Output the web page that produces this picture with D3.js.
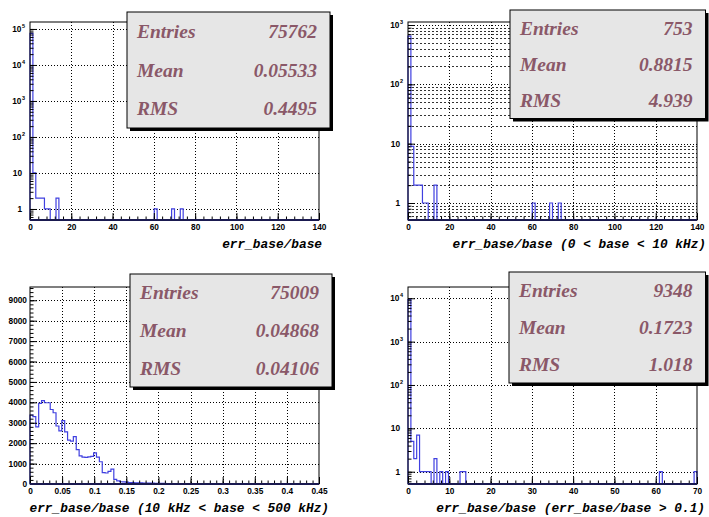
<!DOCTYPE html>
<html><head><meta charset="utf-8">
<script src="https://cdn.jsdelivr.net/npm/d3@7/dist/d3.min.js"></script>
<style>body{margin:0;background:#fff}</style>
</head><body>
<svg id="c" width="709" height="517"></svg>
<script>
// ---------------- DATA ----------------
const p1Counts = [
 75700,10,2,2,2,1,1,0,0,2,
 0,0,0,0,0,0,0,0,0,0,
 0,0,0,0,0,0,0,0,0,0,
 0,0,0,0,0,0,0,0,0,0,
 0,0,0,1,0,0,0,0,0,1,
 0,0,1,0,0,0,0,0,0,0,
 0,0,0,0,0,0,0,0,0,0,
 0,0,0,0,0,0,0,0,0,0,
 0,0,0,0,0,0,0,0,0,0,
 0,0,0,0,0,0,0,0,0,0];
const p2Counts = [
 650,9,2,2,2,1,1,0,0,2,
 0,0,0,0,0,0,0,0,0,0,
 0,0,0,0,0,0,0,0,0,0,
 0,0,0,0,0,0,0,0,0,0,
 0,0,0,1,0,0,0,0,0,1,
 0,0,1,0,0,0,0,0,0,0,
 0,0,0,0,0,0,0,0,0,0,
 0,0,0,0,0,0,0,0,0,0,
 0,0,0,0,0,0,0,0,0,0,
 0,0,0,0,0,0,0,0,0,0];
const p3Counts = [
 3380,3300,2800,3950,4080,3980,3980,3650,3490,2840,
 2600,3100,2550,2150,2100,2320,1680,1380,1320,1300,
 1330,1350,1520,1320,1090,560,540,620,730,230,
 150,110,100,90,70,65,60,62,55,50,
 45,40,38,35,30,32,28,25,22,20,
 18,20,16,15,14,12,13,11,10,10,
 9,8,9,7,8,6,7,6,5,6,
 5,4,5,4,4,3,4,3,3,3,
 3,2,3,2,2,2,1,2,1,2,
 1,1,1,2,1,1,0,1,1,1];
const p4Counts = [
 9300,5,2,7,1,1,1,1,0,2,
 0,1,0,1,0,0,0,0,1,1,
 0,0,0,0,0,0,0,0,0,0,
 0,0,0,0,0,0,0,0,0,0,
 0,0,0,0,0,0,0,0,0,0,
 0,0,0,0,0,0,0,0,0,0,
 0,0,0,0,0,0,0,0,0,0,
 0,0,0,0,0,0,0,0,0,0,
 0,0,0,0,0,0,0,1,0,0,
 0,0,0,0,0,0,0,0,0,1];

const p1XRange = [0,140], p2XRange = [0,140], p3XRange = [0,0.45], p4XRange = [0,70];
const p1YRange = [0.494,156000], p2YRange = [0.517,1124], p3YRange = [0,9650], p4YRange = [0.52,18200];

const p1XTicks = [0,20,40,60,80,100,120,140];
const p2XTicks = [0,20,40,60,80,100,120,140];
const p3XTicks = [0,0.05,0.1,0.15,0.2,0.25,0.3,0.35,0.4,0.45];
const p3XTickLabels = ["0","0.05","0.1","0.15","0.2","0.25","0.3","0.35","0.4","0.45"];
const p4XTicks = [0,10,20,30,40,50,60,70];
const p3YTicks = [0,1000,2000,3000,4000,5000,6000,7000,8000,9000];
const p1YTicks = [1,10,100,1000,10000,100000];
const p2YTicks = [1,10,100,1000];
const p4YTicks = [1,10,100,1000,10000];

const statNames = ["Entries","Mean","RMS"];
const p1Stats = ["75762","0.05533","0.4495"];
const p2Stats = ["753","0.8815","4.939"];
const p3Stats = ["75009","0.04868","0.04106"];
const p4Stats = ["9348","0.1723","1.018"];

const p1Title = "err_base/base";
const p2Title = "err_base/base (0 < base < 10 kHz)";
const p3Title = "err_base/base (10 kHz < base < 500 kHz)";
const p4Title = "err_base/base (err_base/base > 0.1)";

// ---------------- LAYOUT / STYLE ----------------
const svg = d3.select("#c");
const HIST_COLOR = "#4040e0";
const STAT_COLOR = "#8a5868";

function range(a,b,s){const r=[];for(let v=a;v<=b+s*1e-6;v+=s)r.push(+v.toFixed(6));return r;}
function logMinor(dom){const r=[];for(let e=-1;e<=6;e++)for(let m=1;m<=9;m++){const v=m*Math.pow(10,e);if(v>=dom[0]&&v<=dom[1])r.push(v);}return r;}

const panels = [
 {counts:p1Counts,xr:p1XRange,yr:p1YRange,log:true,xt:p1XTicks,xl:null,xm:range(0,140,4),yt:p1YTicks,
  stats:p1Stats,title:p1Title,minorGrid:false,
  x0:30,x1:319,y0:22,y1:220,box:[127,12,330,128],titleX:322,titleY:247.5},
 {counts:p2Counts,xr:p2XRange,yr:p2YRange,log:true,xt:p2XTicks,xl:null,xm:range(0,140,4),yt:p2YTicks,
  stats:p2Stats,title:p2Title,minorGrid:true,
  x0:408,x1:697,y0:22,y1:220,box:[510,10,705.5,118.5],titleX:706,titleY:247.5},
 {counts:p3Counts,xr:p3XRange,yr:p3YRange,log:false,xt:p3XTicks,xl:p3XTickLabels,xm:range(0,0.45,0.01),yt:p3YTicks,
  ym:range(0,9600,200),stats:p3Stats,title:p3Title,minorGrid:false,
  x0:30,x1:319,y0:287,y1:484,box:[130,274,332,387],titleX:329,titleY:511.5},
 {counts:p4Counts,xr:p4XRange,yr:p4YRange,log:true,xt:p4XTicks,xl:null,xm:range(0,70,2),yt:p4YTicks,
  stats:p4Stats,title:p4Title,minorGrid:false,
  x0:408,x1:697,y0:287,y1:484,box:[509,272,705.5,383],titleX:705,titleY:511.5}
];

function drawPanel(p){
  const g = svg.append("g");
  const x = d3.scaleLinear().domain(p.xr).range([p.x0,p.x1]);
  const y = (p.log ? d3.scaleLog() : d3.scaleLinear()).domain(p.yr).range([p.y1,p.y0]);
  const yMinor = p.log ? logMinor(p.yr) : p.ym;
  const px = v=>Math.round(v)+0.5;

  // grid
  const gridG = g.append("g").attr("stroke","#000").attr("stroke-width",1)
     .attr("stroke-dasharray","1,2").attr("fill","none").attr("shape-rendering","crispEdges");
  p.xt.forEach(v=>{ if(x(v)>p.x0+1 && x(v)<p.x1-1)
    gridG.append("line").attr("x1",px(x(v))).attr("x2",px(x(v))).attr("y1",p.y0).attr("y2",p.y1);});
  p.yt.forEach(v=>{ if(y(v)>p.y0+1 && y(v)<p.y1-1)
    gridG.append("line").attr("x1",p.x0).attr("x2",p.x1).attr("y1",px(y(v))).attr("y2",px(y(v)));});
  if(p.minorGrid){
    yMinor.filter(v=>!p.yt.includes(v)).forEach(v=>{ if(y(v)>p.y0+1 && y(v)<p.y1-1)
      gridG.append("line").attr("x1",p.x0).attr("x2",p.x1).attr("y1",px(y(v))).attr("y2",px(y(v)))
        .attr("stroke-dasharray","2,2").attr("stroke","#333");});
  }

  // histogram step outline
  const n = p.counts.length, bw = (p.xr[1]-p.xr[0])/n;
  const base = p.y1;
  let d = `M${x(p.xr[0])},${base}`;
  p.counts.forEach((c,i)=>{
    let yy = c>0 ? Math.max(p.y0, y(c)) : base;
    d += `L${x(p.xr[0]+i*bw)},${yy}L${x(p.xr[0]+(i+1)*bw)},${yy}`;
  });
  d += `L${x(p.xr[1])},${base}`;
  g.append("path").attr("d",d).attr("fill","none").attr("stroke",HIST_COLOR).attr("stroke-width",1.2);

  // axes (inner ticks)
  const font = "'Liberation Sans', Arial, sans-serif";
  const xa = g.append("g").attr("transform",`translate(0,${p.y1})`)
    .call(d3.axisBottom(x).tickValues(p.xt).tickSize(-7).tickPadding(4)
      .tickFormat((v,i)=> p.xl ? p.xl[i] : String(v)));
  const xm = g.append("g").attr("transform",`translate(0,${p.y1})`)
    .call(d3.axisBottom(x).tickValues(p.xm).tickSize(-3.5).tickFormat(""));
  const ya = g.append("g").attr("transform",`translate(${p.x0},0)`)
    .call(d3.axisLeft(y).tickValues(p.yt).tickSize(-7).tickPadding(p.log?8:3)
      .tickFormat(v=>String(v)));
  const ym = g.append("g").attr("transform",`translate(${p.x0},0)`)
    .call(d3.axisLeft(y).tickValues(yMinor).tickSize(-3.5).tickFormat(""));
  [xa,xm,ya,ym].forEach(a=>{
    a.select(".domain").remove();
    a.selectAll("line").attr("stroke","#000").attr("stroke-width",1);
    a.selectAll("text").attr("font-family",font).attr("font-weight","bold")
     .attr("font-size","8.3px").attr("fill","#000");
  });
  if(p.log){
    ya.selectAll("text").each(function(v){
      const t = d3.select(this);
      if(v>=100){
        t.text("10");
        t.append("tspan").text(String(Math.round(Math.log10(v))))
          .attr("font-size","5.5px").attr("dy","-4px").attr("dx","0.5px");
        t.attr("text-anchor","start").attr("x",-8-t.node().getComputedTextLength()+2.5);
      }
    });
  }

  // frame
  g.append("rect").attr("x",p.x0).attr("y",p.y0).attr("width",p.x1-p.x0).attr("height",p.y1-p.y0)
    .attr("fill","none").attr("stroke","#000").attr("stroke-width",1);
  g.append("line").attr("x1",p.x0).attr("x2",p.x1).attr("y1",p.y1).attr("y2",p.y1)
    .attr("stroke","#1a1a50").attr("stroke-width",1.8);

  // axis title
  g.append("text").attr("x",p.titleX).attr("y",p.titleY).attr("text-anchor","end")
    .attr("font-family","'Liberation Mono','Courier New',monospace").attr("font-weight","bold")
    .attr("font-style","italic").attr("font-size","12.8px").attr("fill","#000").text(p.title);

  // stats box
  const [bx0,by0,bx1,by1] = p.box;
  g.append("rect").attr("x",bx0+3).attr("y",by0+3).attr("width",bx1-bx0).attr("height",by1-by0).attr("fill","#000");
  g.append("rect").attr("x",bx0).attr("y",by0).attr("width",bx1-bx0).attr("height",by1-by0)
    .attr("fill","#e6e6e6").attr("stroke","#000").attr("stroke-width",1);
  const rh = (by1-by0)/3;
  statNames.forEach((nm,i)=>{
    const cy = by0 + rh*(i+0.5);
    const st = t=>t.attr("font-family","'Liberation Serif','Times New Roman',serif")
      .attr("font-weight","bold").attr("font-style","italic").attr("font-size","19.5px")
      .attr("fill",STAT_COLOR).attr("dominant-baseline","central");
    st(g.append("text").attr("x",bx0+10).attr("y",cy).text(nm));
    st(g.append("text").attr("x",bx1-13).attr("y",cy).attr("text-anchor","end").text(p.stats[i]));
  });
}
panels.forEach(drawPanel);
</script>
</body></html>
